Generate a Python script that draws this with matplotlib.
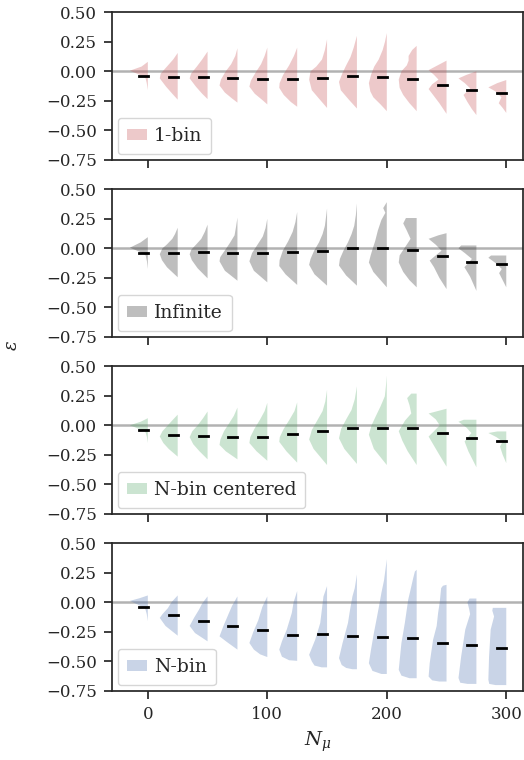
import numpy as np
import matplotlib
matplotlib.use("Agg")
import matplotlib.pyplot as plt
from matplotlib.patches import Patch

# ── data ────────────────────────────────────────────────────────────────────
n_mu = [0, 25, 50, 75, 100, 125, 150, 175, 200, 225, 250, 275, 300]

labels = ["1-bin", "Infinite", "N-bin centered", "N-bin"]
base_colors = ["#C44E52", "#2a2a2a", "#55A868", "#4C72B0"]

means_1bin = [-0.037, -0.046, -0.046, -0.057, -0.065, -0.063, -0.057,
              -0.040, -0.051, -0.068, -0.116, -0.160, -0.182]
means_inf = [-0.040, -0.040, -0.033, -0.040, -0.040, -0.030, -0.019,
             0.000, 0.000, -0.013, -0.067, -0.112, -0.135]
means_nbc = [-0.044, -0.081, -0.089, -0.100, -0.095, -0.075, -0.052,
             -0.024, -0.024, -0.024, -0.066, -0.109, -0.129]
means_nbin = [-0.041, -0.110, -0.155, -0.200, -0.234, -0.274, -0.271,
              -0.288, -0.294, -0.302, -0.340, -0.365, -0.387]

# violin outlines: (epsilon, relative density) from top to bottom
shapes_1bin = [
    [(0.08, 0), (0.04, 0.35), (0.005, 1.0), (-0.03, 0.45), (-0.06, 0.12), (-0.10, 0.06), (-0.16, 0)],
    [(0.155, 0), (0.10, 0.25), (0.04, 0.6), (-0.02, 0.95), (-0.06, 1.0), (-0.13, 0.65), (-0.19, 0.3), (-0.24, 0)],
    [(0.167, 0), (0.10, 0.3), (0.04, 0.6), (-0.02, 0.92), (-0.06, 1.0), (-0.13, 0.65), (-0.19, 0.3), (-0.235, 0)],
    [(0.195, 0), (0.13, 0.12), (0.06, 0.35), (0.0, 0.65), (-0.07, 0.92), (-0.12, 1.0), (-0.18, 0.7), (-0.23, 0.3), (-0.265, 0)],
    [(0.20, 0), (0.13, 0.15), (0.06, 0.35), (-0.01, 0.65), (-0.08, 0.92), (-0.13, 1.0), (-0.19, 0.7), (-0.24, 0.3), (-0.28, 0)],
    [(0.20, 0), (0.13, 0.18), (0.05, 0.45), (-0.03, 0.78), (-0.10, 0.98), (-0.14, 1.0), (-0.20, 0.75), (-0.26, 0.35), (-0.30, 0)],
    [(0.27, 0), (0.18, 0.12), (0.10, 0.28), (0.04, 0.6), (0.0, 0.92), (-0.07, 1.0), (-0.16, 0.85), (-0.24, 0.4), (-0.31, 0)],
    [(0.30, 0), (0.20, 0.18), (0.12, 0.36), (0.05, 0.6), (-0.02, 0.82), (-0.09, 1.0), (-0.16, 0.9), (-0.24, 0.45), (-0.315, 0)],
    [(0.323, 0), (0.25, 0.1), (0.18, 0.23), (0.10, 0.45), (0.04, 0.7), (-0.03, 0.88), (-0.10, 1.0), (-0.17, 0.92), (-0.22, 0.75), (-0.28, 0.35), (-0.337, 0)],
    [(0.215, 0), (0.18, 0.25), (0.13, 0.45), (0.09, 0.45), (0.05, 0.55), (0.0, 0.85), (-0.07, 1.0), (-0.14, 0.95), (-0.20, 0.75), (-0.27, 0.4), (-0.337, 0)],
    [(0.09, 0), (0.05, 0.5), (0.01, 1.0), (-0.03, 0.7), (-0.07, 0.45), (-0.11, 0.8), (-0.15, 1.0), (-0.20, 0.75), (-0.27, 0.4), (-0.36, 0)],
    [(0.0, 0), (-0.03, 0.55), (-0.06, 1.0), (-0.10, 0.65), (-0.145, 0.34), (-0.20, 0.72), (-0.26, 0.5), (-0.32, 0.25), (-0.37, 0)],
    [(-0.074, 0), (-0.10, 0.5), (-0.136, 1.0), (-0.17, 0.6), (-0.22, 0.27), (-0.27, 0.42), (-0.31, 0.2), (-0.352, 0)],
]
shapes_inf = [
    [(0.094, 0), (0.05, 0.4), (0.005, 1.0), (-0.03, 0.45), (-0.06, 0.12), (-0.11, 0.05), (-0.175, 0)],
    [(0.174, 0), (0.12, 0.15), (0.08, 0.3), (0.03, 0.62), (0.0, 0.85), (-0.05, 1.0), (-0.10, 0.88), (-0.16, 0.6), (-0.245, 0)],
    [(0.20, 0), (0.14, 0.15), (0.08, 0.35), (0.03, 0.65), (-0.01, 0.9), (-0.05, 1.0), (-0.10, 0.88), (-0.17, 0.55), (-0.254, 0)],
    [(0.26, 0), (0.18, 0.08), (0.11, 0.16), (0.05, 0.4), (0.0, 0.62), (-0.075, 0.96), (-0.11, 1.0), (-0.19, 0.7), (-0.274, 0)],
    [(0.25, 0), (0.17, 0.1), (0.10, 0.25), (0.03, 0.55), (-0.04, 0.85), (-0.11, 1.0), (-0.19, 0.75), (-0.288, 0)],
    [(0.307, 0), (0.22, 0.1), (0.14, 0.25), (0.06, 0.5), (-0.02, 0.8), (-0.10, 0.98), (-0.15, 1.0), (-0.22, 0.65), (-0.31, 0)],
    [(0.336, 0), (0.25, 0.07), (0.19, 0.12), (0.12, 0.25), (0.05, 0.45), (-0.02, 0.72), (-0.09, 0.92), (-0.14, 1.0), (-0.22, 0.7), (-0.316, 0)],
    [(0.38, 0), (0.28, 0.06), (0.19, 0.15), (0.12, 0.3), (0.05, 0.5), (-0.02, 0.75), (-0.09, 0.95), (-0.146, 1.0), (-0.23, 0.6), (-0.316, 0)],
    [(0.39, 0), (0.34, 0.2), (0.30, 0.08), (0.24, 0.3), (0.15, 0.5), (0.06, 0.65), (0.0, 0.78), (-0.06, 0.9), (-0.12, 1.0), (-0.20, 0.75), (-0.33, 0)],
    [(0.256, 0.6), (0.21, 0.75), (0.15, 0.55), (0.08, 0.34), (0.02, 0.6), (-0.06, 0.95), (-0.12, 1.0), (-0.20, 0.75), (-0.27, 0.4), (-0.33, 0)],
    [(0.128, 0), (0.11, 0.45), (0.08, 1.0), (0.03, 0.6), (-0.02, 0.28), (-0.06, 0.6), (-0.104, 0.94), (-0.16, 0.7), (-0.25, 0.4), (-0.345, 0)],
    [(0.024, 0.85), (0.0, 1.0), (-0.04, 0.65), (-0.09, 0.25), (-0.16, 0.67), (-0.24, 0.35), (-0.36, 0)],
    [(-0.061, 0.85), (-0.08, 1.0), (-0.13, 0.55), (-0.175, 0.25), (-0.21, 0.4), (-0.27, 0.2), (-0.33, 0)],
]
shapes_nbc = [
    [(0.06, 0), (0.03, 0.4), (0.0, 1.0), (-0.03, 0.5), (-0.06, 0.12), (-0.10, 0.05), (-0.15, 0)],
    [(0.09, 0), (0.05, 0.25), (0.0, 0.55), (-0.05, 0.85), (-0.095, 1.0), (-0.15, 0.8), (-0.20, 0.5), (-0.265, 0)],
    [(0.117, 0), (0.06, 0.25), (0.0, 0.55), (-0.05, 0.85), (-0.10, 1.0), (-0.16, 0.8), (-0.22, 0.45), (-0.288, 0)],
    [(0.15, 0), (0.08, 0.2), (0.02, 0.45), (-0.05, 0.75), (-0.12, 0.95), (-0.166, 1.0), (-0.22, 0.65), (-0.288, 0)],
    [(0.19, 0), (0.12, 0.15), (0.05, 0.4), (-0.03, 0.72), (-0.10, 0.95), (-0.15, 1.0), (-0.22, 0.6), (-0.30, 0)],
    [(0.194, 0), (0.12, 0.15), (0.05, 0.42), (-0.03, 0.75), (-0.10, 0.97), (-0.14, 1.0), (-0.22, 0.6), (-0.316, 0)],
    [(0.30, 0), (0.20, 0.1), (0.12, 0.25), (0.04, 0.55), (-0.04, 0.85), (-0.12, 1.0), (-0.20, 0.75), (-0.336, 0)],
    [(0.33, 0), (0.22, 0.12), (0.13, 0.3), (0.05, 0.6), (-0.03, 0.88), (-0.11, 1.0), (-0.20, 0.7), (-0.327, 0)],
    [(0.42, 0), (0.33, 0.05), (0.245, 0.11), (0.16, 0.35), (0.075, 0.62), (0.0, 0.85), (-0.08, 1.0), (-0.20, 0.72), (-0.336, 0)],
    [(0.268, 0.3), (0.23, 0.53), (0.17, 0.4), (0.10, 0.3), (0.04, 0.65), (-0.05, 1.0), (-0.13, 0.8), (-0.22, 0.5), (-0.336, 0)],
    [(0.14, 0), (0.12, 0.5), (0.10, 1.0), (0.05, 0.6), (0.0, 0.38), (-0.05, 0.7), (-0.095, 1.0), (-0.16, 0.75), (-0.25, 0.4), (-0.35, 0)],
    [(0.047, 0.7), (0.03, 1.0), (-0.02, 0.55), (-0.066, 0.28), (-0.137, 0.66), (-0.22, 0.45), (-0.355, 0)],
    [(-0.052, 0.5), (-0.065, 1.0), (-0.10, 0.55), (-0.137, 0.2), (-0.18, 0.35), (-0.25, 0.2), (-0.32, 0)],
]
shapes_nbin = [
    [(0.058, 0), (0.035, 0.45), (0.012, 1.0), (-0.02, 0.55), (-0.05, 0.15), (-0.10, 0.06), (-0.16, 0)],
    [(0.058, 0), (0.0, 0.35), (-0.05, 0.55), (-0.10, 0.85), (-0.132, 1.0), (-0.20, 0.68), (-0.282, 0)],
    [(0.05, 0), (-0.01, 0.3), (-0.06, 0.47), (-0.13, 0.75), (-0.20, 1.0), (-0.26, 0.7), (-0.33, 0)],
    [(0.05, 0), (-0.03, 0.3), (-0.10, 0.5), (-0.20, 0.78), (-0.288, 1.0), (-0.34, 0.55), (-0.40, 0)],
    [(0.05, 0), (-0.04, 0.28), (-0.15, 0.5), (-0.25, 0.78), (-0.344, 1.0), (-0.40, 0.75), (-0.44, 0.4), (-0.463, 0)],
    [(0.095, 0), (0.0, 0.2), (-0.09, 0.3), (-0.23, 0.58), (-0.33, 0.85), (-0.40, 1.0), (-0.46, 0.85), (-0.49, 0.45), (-0.495, 0)],
    [(0.137, 0), (0.05, 0.2), (-0.05, 0.28), (-0.175, 0.38), (-0.316, 0.66), (-0.444, 1.0), (-0.50, 0.85), (-0.535, 0.7), (-0.55, 0.3)],
    [(0.236, 0), (0.12, 0.12), (0.05, 0.25), (-0.06, 0.38), (-0.175, 0.5), (-0.344, 0.8), (-0.472, 1.0), (-0.53, 0.85), (-0.555, 0.6), (-0.566, 0.25)],
    [(0.364, 0), (0.19, 0.15), (0.08, 0.3), (-0.03, 0.43), (-0.15, 0.58), (-0.26, 0.72), (-0.40, 0.88), (-0.515, 1.0), (-0.58, 0.8), (-0.606, 0.3)],
    [(0.275, 0), (0.26, 0.1), (0.20, 0.2), (0.10, 0.35), (0.024, 0.47), (-0.175, 0.66), (-0.344, 0.85), (-0.571, 1.0), (-0.62, 0.85), (-0.642, 0.4)],
    [(0.148, 0), (0.14, 0.2), (0.12, 0.3), (0.0, 0.38), (-0.09, 0.47), (-0.20, 0.55), (-0.316, 0.75), (-0.515, 0.94), (-0.628, 1.0), (-0.66, 0.8), (-0.67, 0.4)],
    [(0.032, 0.38), (0.0, 0.5), (-0.06, 0.4), (-0.10, 0.35), (-0.23, 0.62), (-0.458, 0.85), (-0.64, 1.0), (-0.68, 0.9), (-0.69, 0.5)],
    [(-0.047, 0.75), (-0.07, 0.78), (-0.12, 0.68), (-0.23, 0.87), (-0.458, 0.96), (-0.655, 1.0), (-0.69, 0.95), (-0.70, 0.6)],
]

all_means = [means_1bin, means_inf, means_nbc, means_nbin]
all_shapes = [shapes_1bin, shapes_inf, shapes_nbc, shapes_nbin]

yticks = [0.50, 0.25, 0.00, -0.25, -0.50, -0.75]
xticks = [0, 100, 200, 300]

# ── style ──────────────────────────────────────────────────────────────────
plt.rcParams.update({
    "font.family": ["DejaVu Serif"],
    "mathtext.fontset": "dejavuserif",
    "font.size": 12,
    "text.color": ".15",
    "axes.edgecolor": ".15",
    "axes.labelcolor": ".15",
    "xtick.color": ".15",
    "ytick.color": ".15",
    "axes.linewidth": 1.25,
    "xtick.major.width": 1.25,
    "ytick.major.width": 1.25,
    "xtick.major.size": 6,
    "ytick.major.size": 6,
    "xtick.major.pad": 5,
    "ytick.major.pad": 5,
})


def make_stats(shape, mean):
    ys = np.array([p[0] for p in shape])
    dens = np.array([p[1] for p in shape], dtype=float)
    return {"coords": ys, "vals": dens, "mean": mean, "median": mean,
            "min": ys.min(), "max": ys.max()}


fig = plt.figure(figsize=(5.24, 7.6), dpi=100)
left, width, height = 0.2137, 0.7844, 0.1945
bottoms = [0.7895, 0.5566, 0.3237, 0.0908]

axes = []
for i in range(4):
    ax = fig.add_axes([left, bottoms[i], width, height])
    axes.append(ax)
    color = base_colors[i]

    ax.axhline(0, color="gray", alpha=0.6, lw=1.8, zorder=0)

    stats = [make_stats(s, m) for s, m in zip(all_shapes[i], all_means[i])]
    parts = ax.violin(stats, positions=n_mu, widths=30, showmeans=True,
                      showextrema=False, side="low")
    for body in parts["bodies"]:
        body.set_facecolor(color)
        body.set_edgecolor("none")
        body.set_linewidth(0)
        body.set_alpha(0.3)
    parts["cmeans"].set_color("k")
    parts["cmeans"].set_linewidth(2.0)

    ax.set_xlim(-30, 314)
    ax.set_ylim(-0.75, 0.5)
    ax.set_yticks(yticks)
    ax.set_yticklabels([f"{v:.2f}".replace("-", "\u2212") for v in yticks])
    ax.set_xticks(xticks)
    if i < 3:
        ax.set_xticklabels([])
    ax.tick_params(direction="out")

    handle = Patch(facecolor=color, alpha=0.3, edgecolor="none")
    ax.legend([handle], [labels[i]], loc="lower left", handlelength=1.07,
              handleheight=0.5, fontsize=13.5, borderpad=0.5,
              handletextpad=0.35, borderaxespad=0.3)

axes[-1].set_xlabel(r"$N_\mu$", fontsize=14, labelpad=5)
fig.text(0.022, 0.546, r"$\varepsilon$", rotation=90, fontsize=13,
         ha="center", va="center")

fig.savefig("out.png", dpi=100)
